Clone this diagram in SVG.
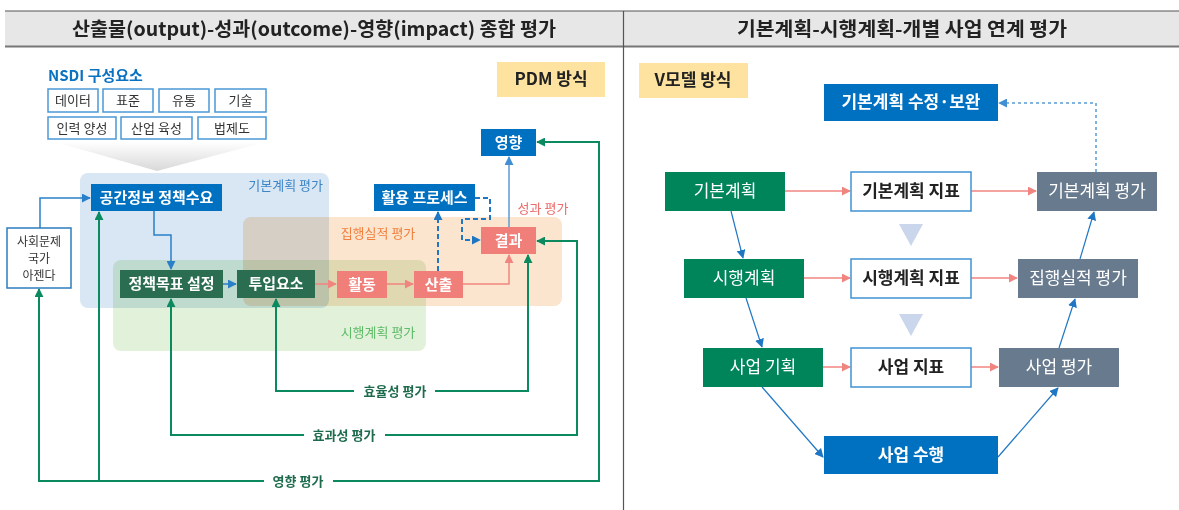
<svg xmlns="http://www.w3.org/2000/svg" width="1179" height="510" viewBox="0 0 1179 510">
<style>
text{font-family:"Noto Sans CJK KR","Noto Sans",sans-serif}
.title{font-size:19px;font-weight:700;fill:#222;text-anchor:middle}
.nw{font-size:15px;font-weight:700;fill:#fff;text-anchor:middle}
.vw{font-size:17px;fill:#fff;text-anchor:middle}
.vwb{font-size:17px;font-weight:700;fill:#fff;text-anchor:middle}
.vk{font-size:17px;font-weight:700;fill:#222;text-anchor:middle}
.sm{font-size:13px;fill:#333;text-anchor:middle}
.sc{font-size:12px;fill:#333;text-anchor:middle}
.reg{font-size:13px}
.ev{font-size:13px;font-weight:700;fill:#1d6b4c;text-anchor:middle}
.tag{font-size:17px;font-weight:700;fill:#222;text-anchor:middle}
.blue{fill:#0070c0}
.dg{fill:#2a6d51}
.sal{fill:#f07e79}
.vg{fill:#00855b}
.gr{fill:#687a8d}
.wb{fill:#fff;stroke:#3f92d2;stroke-width:1.5}
.sb{fill:#fff;stroke:#4a98d6;stroke-width:1.5}
.g{fill:none;stroke:#0b8a5f;stroke-width:2}
.b{fill:none;stroke:#2a80c8;stroke-width:1.5}
.lb{fill:none;stroke:#5b9bd5;stroke-width:1.5}
.s{fill:none;stroke:#f08580;stroke-width:1.5}
.d{fill:none;stroke:#1f77c4;stroke-width:2;stroke-dasharray:5,3}
.dot{fill:none;stroke:#5b9bd5;stroke-width:1.5;stroke-dasharray:3,3}
.vb{fill:none;stroke:#1f77c4;stroke-width:1.2}
.region{mix-blend-mode:multiply}
</style>
<defs>
<marker id="ag" viewBox="0 0 10 10" refX="9" refY="5" markerWidth="9" markerHeight="9" markerUnits="userSpaceOnUse" orient="auto"><path d="M0,0L10,5L0,10z" fill="#0b8a5f"/></marker>
<marker id="ab" viewBox="0 0 10 10" refX="9" refY="5" markerWidth="9" markerHeight="9" markerUnits="userSpaceOnUse" orient="auto"><path d="M0,0L10,5L0,10z" fill="#2a80c8"/></marker>
<marker id="alb" viewBox="0 0 10 10" refX="9" refY="5" markerWidth="9" markerHeight="9" markerUnits="userSpaceOnUse" orient="auto"><path d="M0,0L10,5L0,10z" fill="#3f8fd2"/></marker>
<marker id="as" viewBox="0 0 10 10" refX="9" refY="5" markerWidth="9" markerHeight="9" markerUnits="userSpaceOnUse" orient="auto"><path d="M0,0L10,5L0,10z" fill="#f08580"/></marker>
<marker id="av" viewBox="0 0 10 10" refX="9" refY="5" markerWidth="9" markerHeight="9" markerUnits="userSpaceOnUse" orient="auto"><path d="M0,0L10,5L0,10z" fill="#1f77c4"/></marker>
<linearGradient id="fun" x1="0" y1="0" x2="0" y2="1"><stop offset="0" stop-color="#ffffff"/><stop offset="1" stop-color="#d8d8d8"/></linearGradient>
</defs>
<rect width="1179" height="510" fill="#fff"/>

<g id="header">
<rect x="5" y="11" width="1174" height="35" fill="#e7e7e8"/>
<line x1="5" y1="11" x2="1179" y2="11" stroke="#555" stroke-width="1"/>
<line x1="5" y1="46.5" x2="1179" y2="46.5" stroke="#777" stroke-width="2"/>
<line x1="623.5" y1="11" x2="623.5" y2="510" stroke="#555" stroke-width="1.2"/>
<text class="title" x="314" y="36" textLength="484" lengthAdjust="spacingAndGlyphs">산출물(output)-성과(outcome)-영향(impact) 종합 평가</text>
<text class="title" x="902" y="36" textLength="330" lengthAdjust="spacingAndGlyphs">기본계획-시행계획-개별 사업 연계 평가</text>
</g>

<g id="regions">
<rect class="region" x="80" y="173" width="249" height="135" rx="8" fill="#d8e7f3"/>
<rect class="region" x="243" y="217" width="319" height="89" rx="8" fill="#fce5cf"/>
<rect class="region" x="113" y="260" width="313" height="91" rx="8" fill="#e2f1da"/>
<text class="reg" x="323" y="190" text-anchor="end" fill="#3d85c6">기본계획 평가</text>
<text class="reg" x="378" y="238" text-anchor="middle" fill="#f27f3d">집행실적 평가</text>
<text class="reg" x="543" y="213" text-anchor="middle" fill="#ee6a6a">성과 평가</text>
<text class="reg" x="378" y="337" text-anchor="middle" fill="#5dbb67">시행계획 평가</text>
</g>

<g id="pdm-tag"><rect x="497" y="62" width="108" height="35" fill="#fde39f"/><text class="tag" x="551" y="85">PDM 방식</text></g>
<g id="v-tag"><rect x="639" y="63" width="109" height="35" fill="#fde39f"/><text class="tag" x="693" y="86">V모델 방식</text></g>

<g id="nsdi">
<text x="48" y="81" font-size="15" font-weight="700" fill="#0a72c0">NSDI 구성요소</text>
<polygon points="55,142 265,142 157,171" fill="url(#fun)"/>
<rect class="sb" x="48" y="89" width="50" height="23"/><text class="sm" x="73" y="105">데이터</text>
<rect class="sb" x="103" y="89" width="50" height="23"/><text class="sm" x="128" y="105">표준</text>
<rect class="sb" x="159" y="89" width="50" height="23"/><text class="sm" x="184" y="105">유통</text>
<rect class="sb" x="215" y="89" width="51" height="23"/><text class="sm" x="240.5" y="105">기술</text>
<rect class="sb" x="48" y="117" width="68" height="22"/><text class="sm" x="82" y="133">인력 양성</text>
<rect class="sb" x="121" y="117" width="71" height="22"/><text class="sm" x="156.5" y="133">산업 육성</text>
<rect class="sb" x="198" y="117" width="68" height="22"/><text class="sm" x="232" y="133">법제도</text>
</g>

<g id="connectors">
<path class="g" d="M264,481H39V289" marker-end="url(#ag)"/>
<path class="g" d="M99,481V212" marker-end="url(#ag)"/>
<path class="g" d="M333,481H599V142H537" marker-end="url(#ag)"/>
<path class="g" d="M304,435H171V299" marker-end="url(#ag)"/>
<path class="g" d="M385,435H577V241H537" marker-end="url(#ag)"/>
<path class="g" d="M354,391H276V299" marker-end="url(#ag)"/>
<path class="g" d="M435,391H528V255" marker-end="url(#ag)"/>
<text class="ev" x="298" y="486">영향 평가</text>
<text class="ev" x="344" y="440">효과성 평가</text>
<text class="ev" x="395" y="396">효율성 평가</text>
<path class="b" d="M40,228V198H90" marker-end="url(#ab)"/>
<path class="b" d="M154,211V235H171V269" marker-end="url(#ab)"/>
<path class="b" d="M223,284H236" marker-end="url(#ab)"/>
<path class="s" d="M315,284H336" marker-end="url(#as)"/>
<path class="s" d="M387,284H413" marker-end="url(#as)"/>
<path class="s" d="M463,284H509V255" marker-end="url(#as)"/>
<path class="lb" d="M509,227V157" marker-end="url(#alb)"/>
<path class="d" d="M438,271V212" marker-end="url(#av)"/>
<path class="d" d="M475,198H490V219H462V240H480" marker-end="url(#av)"/>

<path class="s" d="M785,191H850" marker-end="url(#as)"/>
<path class="s" d="M971,191H1036" marker-end="url(#as)"/>
<path class="s" d="M804,278H850" marker-end="url(#as)"/>
<path class="s" d="M971,278H1017" marker-end="url(#as)"/>
<path class="s" d="M823,367H850" marker-end="url(#as)"/>
<path class="s" d="M971,367H998" marker-end="url(#as)"/>
<path class="vb" d="M731,211L743,258" marker-end="url(#av)"/>
<path class="vb" d="M746,298L762,347" marker-end="url(#av)"/>
<path class="vb" d="M762,387L823,457" marker-end="url(#av)"/>
<path class="vb" d="M998,457L1058,388" marker-end="url(#av)"/>
<path class="vb" d="M1059,348L1075,299" marker-end="url(#av)"/>
<path class="vb" d="M1080,259L1094,212" marker-end="url(#av)"/>
<path class="dot" d="M1096,172V103H999" marker-end="url(#alb)"/>
<polygon points="899,224 923,224 911,246" fill="#c9d6ec"/>
<polygon points="899,314 923,314 911,336" fill="#c9d6ec"/>
</g>

<g id="social"><rect x="7" y="228" width="64" height="60" fill="#fff" stroke="#2e7cc0" stroke-width="1.5"/>
<text class="sc" x="39" y="246">사회문제</text><text class="sc" x="39" y="263">국가</text><text class="sc" x="39" y="280">아젠다</text></g>
<g id="demand"><rect class="blue" x="91" y="184" width="131" height="27"/><text class="nw" x="156.5" y="203">공간정보 정책수요</text></g>
<g id="goal"><rect class="dg" x="120" y="270" width="103" height="28"/><text class="nw" x="171.5" y="289">정책목표 설정</text></g>
<g id="input"><rect class="dg" x="237" y="270" width="78" height="28"/><text class="nw" x="276" y="289">투입요소</text></g>
<g id="activity"><rect class="sal" x="337" y="271" width="50" height="27"/><text class="nw" x="362" y="290">활동</text></g>
<g id="output"><rect class="sal" x="414" y="271" width="49" height="27"/><text class="nw" x="438.5" y="290">산출</text></g>
<g id="outcome"><rect class="sal" x="481" y="227" width="55" height="27"/><text class="nw" x="508.5" y="246">결과</text></g>
<g id="impact"><rect class="blue" x="481" y="129" width="55" height="27"/><text class="nw" x="508.5" y="148">영향</text></g>
<g id="process"><rect class="blue" x="374" y="184" width="101" height="27"/><text class="nw" x="424.5" y="203">활용 프로세스</text></g>

<g id="revise"><rect class="blue" x="824" y="84" width="174" height="37"/><text class="vwb" x="911" y="108">기본계획 수정·보완</text></g>
<g id="bp"><rect class="vg" x="665" y="172" width="120" height="39"/><text class="vw" x="725" y="197">기본계획</text></g>
<g id="bp-ind"><rect class="wb" x="851" y="172" width="120" height="39"/><text class="vk" x="911" y="197">기본계획 지표</text></g>
<g id="bp-eval"><rect class="gr" x="1037" y="172" width="120" height="39"/><text class="vw" x="1097" y="197">기본계획 평가</text></g>
<g id="ip"><rect class="vg" x="684" y="259" width="120" height="39"/><text class="vw" x="744" y="284">시행계획</text></g>
<g id="ip-ind"><rect class="wb" x="851" y="259" width="120" height="39"/><text class="vk" x="911" y="284">시행계획 지표</text></g>
<g id="ip-eval"><rect class="gr" x="1018" y="259" width="120" height="39"/><text class="vw" x="1078" y="284">집행실적 평가</text></g>
<g id="pj"><rect class="vg" x="703" y="348" width="120" height="39"/><text class="vw" x="763" y="373">사업 기획</text></g>
<g id="pj-ind"><rect class="wb" x="851" y="348" width="120" height="39"/><text class="vk" x="911" y="373">사업 지표</text></g>
<g id="pj-eval"><rect class="gr" x="999" y="348" width="120" height="39"/><text class="vw" x="1059" y="373">사업 평가</text></g>
<g id="exec"><rect class="blue" x="824" y="436" width="174" height="38"/><text class="vwb" x="911" y="461">사업 수행</text></g>
</svg>
